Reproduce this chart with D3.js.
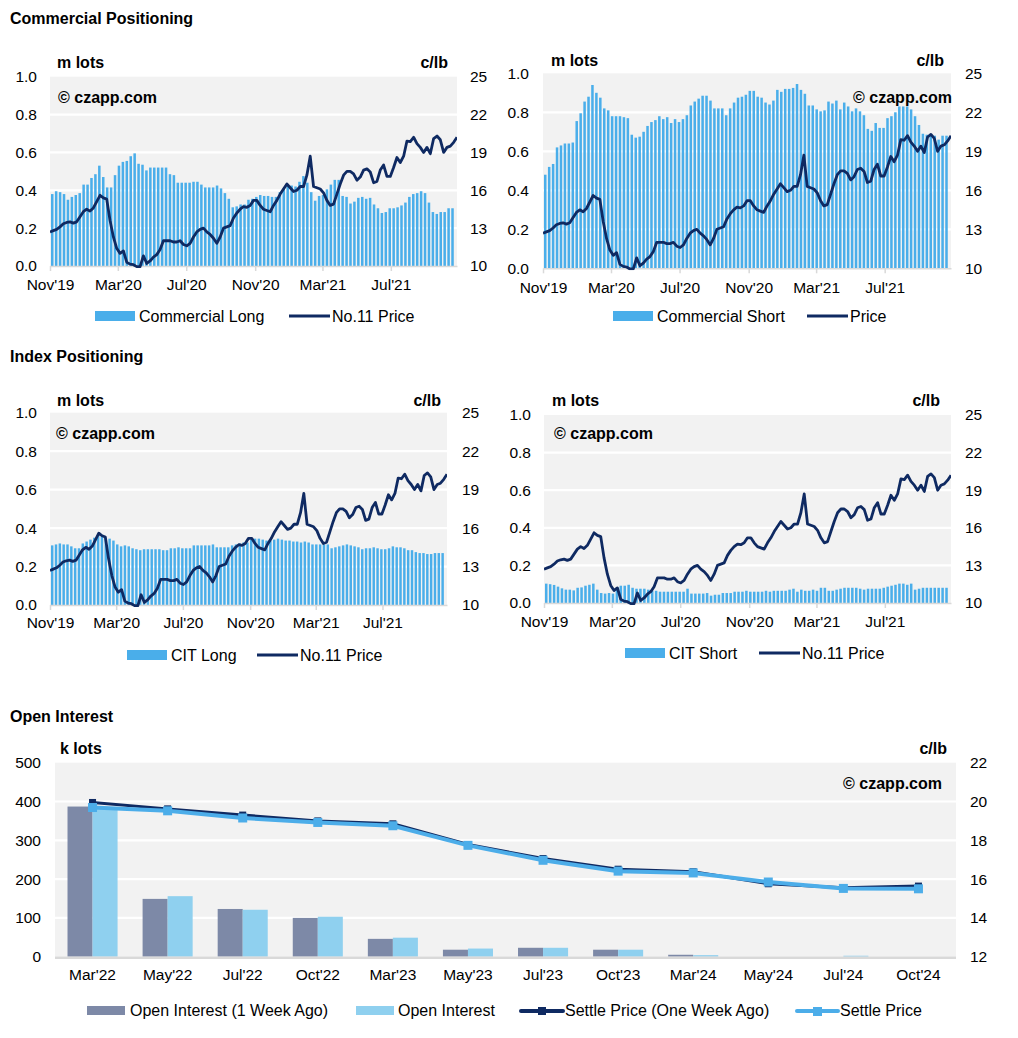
<!DOCTYPE html>
<html><head><meta charset="utf-8">
<script src="https://cdn.jsdelivr.net/npm/d3@7"></script>
<style>
body{margin:0;background:#fff}
svg{display:block}
text{font-family:"Liberation Sans",Arial,sans-serif;fill:#000}
</style>
</head><body>
<svg id="c" width="1018" height="1038"></svg>
<script>
// ---------- DATA ----------
const xTickLabels = ["Nov'19","Mar'20","Jul'20","Nov'20","Mar'21","Jul'21"];
const xTickDates = ["2019-11-01","2020-03-01","2020-07-01","2020-11-01","2021-03-01","2021-07-01"];
const posLeftTicks = [0,0.2,0.4,0.6,0.8,1.0];
const posRightTicks = [10,13,16,19,22,25];
const firstWeek = "2019-11-05";   // weekly positioning reports start
const axisStart = "2019-11-01", axisEnd = "2021-10-27";

const commercialLong = [
0.38,0.395,0.39,0.38,0.35,0.365,0.375,0.385,0.43,0.43,
0.465,0.485,0.53,0.47,0.415,0.415,0.48,0.53,0.55,0.555,
0.58,0.595,0.54,0.535,0.505,0.52,0.52,0.52,0.52,0.52,
0.485,0.48,0.44,0.44,0.44,0.44,0.445,0.445,0.43,0.415,
0.415,0.415,0.425,0.41,0.385,0.355,0.31,0.315,0.325,0.325,
0.35,0.355,0.365,0.375,0.37,0.37,0.365,0.365,0.39,0.41,
0.425,0.425,0.42,0.445,0.475,0.44,0.39,0.345,0.37,0.375,
0.405,0.43,0.455,0.455,0.37,0.365,0.33,0.34,0.36,0.365,
0.355,0.36,0.325,0.305,0.28,0.285,0.305,0.305,0.31,0.32,
0.335,0.365,0.38,0.385,0.395,0.385,0.335,0.285,0.275,0.285,
0.285,0.305,0.305];

const commercialShort = [
0.48,0.52,0.535,0.62,0.63,0.64,0.64,0.645,0.755,0.795,
0.855,0.88,0.94,0.9,0.875,0.82,0.81,0.78,0.78,0.78,
0.775,0.77,0.685,0.67,0.675,0.7,0.73,0.75,0.76,0.78,
0.765,0.775,0.745,0.765,0.75,0.765,0.785,0.835,0.855,0.87,
0.885,0.885,0.86,0.82,0.82,0.82,0.785,0.82,0.85,0.875,
0.88,0.89,0.91,0.91,0.88,0.875,0.85,0.84,0.86,0.915,
0.905,0.92,0.92,0.925,0.945,0.915,0.895,0.835,0.835,0.815,
0.805,0.81,0.855,0.845,0.86,0.815,0.85,0.83,0.805,0.82,
0.805,0.785,0.715,0.705,0.745,0.72,0.72,0.77,0.78,0.8,
0.83,0.83,0.83,0.815,0.78,0.735,0.69,0.685,0.685,0.68,
0.66,0.68,0.68];

const citLong = [
0.31,0.315,0.32,0.315,0.315,0.305,0.295,0.295,0.32,0.33,
0.34,0.35,0.36,0.365,0.345,0.345,0.335,0.315,0.305,0.31,
0.305,0.295,0.29,0.285,0.29,0.29,0.29,0.29,0.29,0.285,
0.285,0.295,0.295,0.3,0.295,0.295,0.295,0.31,0.31,0.31,
0.31,0.31,0.315,0.3,0.3,0.3,0.3,0.31,0.315,0.32,
0.325,0.325,0.34,0.345,0.345,0.34,0.335,0.335,0.34,0.345,
0.34,0.335,0.335,0.33,0.33,0.325,0.33,0.325,0.315,0.315,
0.315,0.315,0.315,0.295,0.3,0.305,0.31,0.315,0.31,0.305,
0.3,0.29,0.295,0.295,0.3,0.295,0.29,0.29,0.295,0.305,
0.3,0.3,0.295,0.285,0.285,0.275,0.27,0.27,0.265,0.265,
0.27,0.27,0.27];

const citShort = [
0.103,0.1,0.096,0.087,0.078,0.071,0.071,0.067,0.081,0.083,
0.092,0.097,0.103,0.071,0.053,0.05,0.053,0.05,0.081,0.092,
0.092,0.097,0.081,0.076,0.076,0.076,0.071,0.065,0.065,0.06,
0.06,0.06,0.06,0.06,0.06,0.06,0.076,0.05,0.05,0.05,
0.05,0.053,0.039,0.044,0.044,0.053,0.053,0.053,0.06,0.06,
0.06,0.065,0.06,0.06,0.06,0.06,0.065,0.06,0.065,0.065,
0.065,0.065,0.071,0.076,0.06,0.071,0.065,0.065,0.071,0.065,
0.081,0.081,0.065,0.065,0.071,0.076,0.081,0.081,0.081,0.081,
0.076,0.071,0.076,0.076,0.076,0.076,0.081,0.087,0.092,0.097,
0.103,0.103,0.097,0.103,0.071,0.076,0.081,0.081,0.081,0.081,
0.081,0.081,0.081];

// No.11 price (c/lb), evenly spaced from axisStart to axisEnd
const no11Price = [
12.7,12.8,12.9,13.1,13.35,13.45,13.5,13.4,13.5,13.9,
14.3,14.5,14.35,14.6,15.1,15.6,15.4,15.3,13.6,12.3,
11.4,11.0,11.2,10.3,10.15,10.1,9.95,9.95,10.8,10.2,
10.4,10.7,10.9,11.3,12.0,12.0,12.0,11.9,11.9,12.0,
11.7,11.6,11.8,12.3,12.7,12.9,13.0,12.7,12.5,12.2,
11.8,12.3,13.0,13.1,13.2,13.8,14.2,14.5,14.7,14.65,
14.8,15.2,15.2,14.8,14.5,14.4,14.3,14.8,15.2,15.7,
16.1,16.5,16.2,15.9,16.0,16.3,16.3,17.2,18.7,16.3,
16.2,16.1,15.8,15.2,14.8,14.9,15.7,16.5,17.2,17.5,
17.5,17.3,16.8,17.05,17.6,17.7,17.45,16.6,16.7,17.6,
18.0,17.1,17.1,17.8,18.6,18.2,18.7,19.9,19.85,20.2,
19.7,19.4,19.0,19.4,18.9,20.1,20.3,20.0,19.0,19.4,
19.5,19.8,20.2];

// Open interest chart
const contracts = ["Mar'22","May'22","Jul'22","Oct'22","Mar'23","May'23","Jul'23","Oct'23","Mar'24","May'24","Jul'24","Oct'24"];
const oiWeekAgo = [387,149,123,100,46,18,23,18,5,0,0,0];
const oiNow     = [384,156,121,103,49,21,23,18,4,0,2.5,0];
const settleWeekAgo = [19.95,19.62,19.3,19.0,18.85,17.78,17.06,16.51,16.38,15.76,15.56,15.64];
const settleNow     = [19.69,19.52,19.15,18.92,18.75,17.74,16.97,16.41,16.32,15.85,15.52,15.5];
const oiLeftTicks = [0,100,200,300,400,500];
const oiRightTicks = [12,14,16,18,20,22];

// ---------- STYLE ----------
const C = {bg:"#f2f2f2", bar:"#4aaeea", navy:"#0f2a62", axis:"#d9d9d9",
           oiDark:"#7d89a7", oiLight:"#8fd0ef", setDark:"#0f2a62", setLight:"#4cade9"};
const svg = d3.select("#c");
const parse = d3.utcParse("%Y-%m-%d");

function txt(g, x, y, s, o={}) {
  return g.append("text").attr("x",x).attr("y",y).attr("dy","0.35em")
    .attr("text-anchor",o.anchor||"start").attr("font-size",o.size||16)
    .attr("font-weight",o.bold?"bold":"normal").text(s);
}

function posChart(cfg) {
  const g = svg.append("g");
  const x = d3.scaleUtc().domain([parse(axisStart), parse(axisEnd)]).range([cfg.x0, cfg.x1]);
  const yL = d3.scaleLinear().domain([0,1]).range([cfg.yBot, cfg.yTop]);
  const yR = d3.scaleLinear().domain([10,25]).range([cfg.yBot, cfg.yTop]);
  g.append("rect").attr("x",cfg.x0).attr("y",cfg.yTop).attr("width",cfg.x1-cfg.x0)
    .attr("height",cfg.yBot-cfg.yTop).attr("fill",C.bg);
  g.selectAll(".grid").data(posLeftTicks.filter(t=>t>0 && t<1)).join("line")
    .attr("x1",cfg.x0).attr("x2",cfg.x1).attr("y1",d=>yL(d)).attr("y2",d=>yL(d))
    .attr("stroke","#fff").attr("stroke-width",2.2);
  const d0 = parse(firstWeek);
  const dates = cfg.bars.map((v,i)=>d3.utcDay.offset(d0, 7*i));
  const bw = (x(d3.utcDay.offset(d0,7)) - x(d0))*0.64;
  g.selectAll(".bar").data(cfg.bars).join("rect")
    .attr("x",(d,i)=>x(dates[i])-bw/2).attr("y",d=>yL(d))
    .attr("width",bw).attr("height",d=>yL(0)-yL(d)).attr("fill",C.bar);
  // x axis
  const ax = g.append("g").attr("transform",`translate(0,${cfg.yBot})`)
    .call(d3.axisBottom(x).tickValues(xTickDates.map(parse)).tickSize(5).tickSizeOuter(0)
      .tickFormat((d,i)=>xTickLabels[i]));
  ax.select(".domain").attr("stroke",C.axis).attr("stroke-width",1.5);
  ax.selectAll(".tick line").attr("stroke",C.axis).attr("stroke-width",1.5);
  ax.selectAll(".tick text").attr("font-size",15.5).attr("fill","#000").attr("y",cfg.xLabDy).attr("dy","0.35em")
    .attr("font-family",'"Liberation Sans",Arial,sans-serif');
  // y axes
  const al = g.append("g").attr("transform",`translate(${cfg.x0},0)`)
    .call(d3.axisLeft(yL).tickValues(posLeftTicks).tickSize(0).tickPadding(cfg.padL).tickFormat(d3.format(".1f")));
  al.select(".domain").remove();
  al.selectAll("text").attr("font-size",15.5).attr("fill","#000").attr("font-family",'"Liberation Sans",Arial,sans-serif');
  const ar = g.append("g").attr("transform",`translate(${cfg.x1},0)`)
    .call(d3.axisRight(yR).tickValues(posRightTicks).tickSize(0).tickPadding(cfg.padR).tickFormat(d3.format("d")));
  ar.select(".domain").remove();
  ar.selectAll("text").attr("font-size",15.5).attr("fill","#000").attr("font-family",'"Liberation Sans",Arial,sans-serif');
  // price line
  const clipId = "clip"+cfg.id;
  svg.append("clipPath").attr("id",clipId).append("rect")
    .attr("x",cfg.x0).attr("y",cfg.yTop).attr("width",cfg.x1-cfg.x0).attr("height",cfg.yBot-cfg.yTop+2);
  const t0 = +parse(axisStart), t1 = +parse(axisEnd), n = no11Price.length;
  const line = d3.line().x((d,i)=>x(new Date(t0 + (t1-t0)*i/(n-1)))).y(d=>yR(d)).curve(d3.curveLinear);
  g.append("path").datum(no11Price).attr("d",line).attr("fill","none")
    .attr("stroke",C.navy).attr("stroke-width",2.8).attr("stroke-linejoin","round")
    .attr("clip-path",`url(#${clipId})`);
  // labels
  txt(g, cfg.mlotsX, cfg.unitY, "m lots", {bold:true});
  txt(g, cfg.clbX, cfg.unitY, "c/lb", {bold:true, anchor:"end"});
  txt(g, cfg.czX, cfg.czY, "\u00a9 czapp.com", {bold:true, anchor:cfg.czAnchor});
  // legend
  g.append("rect").attr("x",cfg.leg[0]).attr("y",cfg.legY-5).attr("width",40).attr("height",10).attr("fill",C.bar);
  txt(g, cfg.leg[0]+44, cfg.legY, cfg.barName);
  g.append("line").attr("x1",cfg.leg[1]).attr("x2",cfg.leg[1]+41).attr("y1",cfg.legY).attr("y2",cfg.legY)
    .attr("stroke",C.navy).attr("stroke-width",3);
  txt(g, cfg.leg[1]+43, cfg.legY, cfg.lineName);
}

// titles
txt(svg, 10, 18, "Commercial Positioning", {bold:true, size:16});
txt(svg, 10, 356, "Index Positioning", {bold:true, size:16});
txt(svg, 10, 716, "Open Interest", {bold:true, size:16});

posChart({id:1, bars:commercialLong, x0:50, x1:457, yTop:76.7, yBot:266, padL:13, padR:13, xLabDy:19,
  mlotsX:57, clbX:448, unitY:62, czX:58, czY:97, czAnchor:"start",
  legY:316, leg:[95,289], barName:"Commercial Long", lineName:"No.11 Price"});
posChart({id:2, bars:commercialShort, x0:543, x1:951, yTop:73.3, yBot:268.3, padL:14, padR:14, xLabDy:19,
  mlotsX:551, clbX:944, unitY:60, czX:952, czY:97, czAnchor:"end",
  legY:316, leg:[613,807], barName:"Commercial Short", lineName:"Price"});
posChart({id:3, bars:citLong, x0:50, x1:447, yTop:412.7, yBot:605, padL:13, padR:15, xLabDy:18,
  mlotsX:57, clbX:441, unitY:400, czX:56, czY:433, czAnchor:"start",
  legY:655, leg:[127,257], barName:"CIT Long", lineName:"No.11 Price"});
posChart({id:4, bars:citShort, x0:544, x1:951, yTop:415, yBot:603, padL:13, padR:14, xLabDy:19,
  mlotsX:552, clbX:940, unitY:400, czX:554, czY:433, czAnchor:"start",
  legY:653, leg:[625,759], barName:"CIT Short", lineName:"No.11 Price"});

// ---------- OPEN INTEREST ----------
(function(){
  const g = svg.append("g");
  const x0 = 55, x1 = 956, yTop = 762.7, yBot = 956.7;
  const x = d3.scaleBand().domain(contracts).range([x0,x1]).padding(0);
  const xs = d3.scaleBand().domain(["prev","now"]).range([0,x.bandwidth()]).paddingInner(0).paddingOuter(0.5);
  const yL = d3.scaleLinear().domain([0,500]).range([yBot,yTop]);
  const yR = d3.scaleLinear().domain([12,22]).range([yBot,yTop]);
  g.append("rect").attr("x",x0).attr("y",yTop).attr("width",x1-x0).attr("height",yBot-yTop).attr("fill",C.bg);
  g.selectAll(".grid").data(oiLeftTicks.filter(t=>t>0&&t<500)).join("line")
    .attr("x1",x0).attr("x2",x1).attr("y1",d=>yL(d)).attr("y2",d=>yL(d)).attr("stroke","#fff").attr("stroke-width",2.2);
  g.selectAll(".bp").data(oiWeekAgo).join("rect")
    .attr("x",(d,i)=>x(contracts[i])+xs("prev")).attr("y",d=>yL(d)).attr("width",xs.bandwidth())
    .attr("height",d=>yBot-yL(d)).attr("fill",C.oiDark);
  g.selectAll(".bn").data(oiNow).join("rect")
    .attr("x",(d,i)=>x(contracts[i])+xs("now")).attr("y",d=>yL(d)).attr("width",xs.bandwidth())
    .attr("height",d=>yBot-yL(d)).attr("fill",C.oiLight);
  g.append("line").attr("x1",x0).attr("x2",x1).attr("y1",yBot+1).attr("y2",yBot+1).attr("stroke",C.axis).attr("stroke-width",2.5);
  contracts.forEach((c,i)=>txt(g, x(c)+x.bandwidth()/2, 975, c, {anchor:"middle", size:15.5}));
  const al = g.append("g").attr("transform",`translate(${x0},0)`)
    .call(d3.axisLeft(yL).tickValues(oiLeftTicks).tickSize(0).tickPadding(14).tickFormat(d3.format("d")));
  al.select(".domain").remove();
  al.selectAll("text").attr("font-size",15.5).attr("fill","#000").attr("font-family",'"Liberation Sans",Arial,sans-serif');
  const ar = g.append("g").attr("transform",`translate(${x1},0)`)
    .call(d3.axisRight(yR).tickValues(oiRightTicks).tickSize(0).tickPadding(14).tickFormat(d3.format("d")));
  ar.select(".domain").remove();
  ar.selectAll("text").attr("font-size",15.5).attr("fill","#000").attr("font-family",'"Liberation Sans",Arial,sans-serif');
  const cx = (d,i)=>x(contracts[i])+x.bandwidth()/2;
  const ln = d3.line().x(cx).y(d=>yR(d));
  g.append("path").datum(settleWeekAgo).attr("d",ln).attr("fill","none").attr("stroke",C.setDark).attr("stroke-width",3);
  g.selectAll(".mp").data(settleWeekAgo).join("rect")
    .attr("x",(d,i)=>cx(d,i)-3.5).attr("y",d=>yR(d)-3.5).attr("width",7).attr("height",7).attr("fill",C.setDark);
  g.append("path").datum(settleNow).attr("d",ln).attr("fill","none").attr("stroke",C.setLight).attr("stroke-width",4);
  g.selectAll(".mn").data(settleNow).join("rect")
    .attr("x",(d,i)=>cx(d,i)-4.5).attr("y",d=>yR(d)-4.5).attr("width",9).attr("height",9).attr("fill",C.setLight);
  txt(g, 60, 748, "k lots", {bold:true});
  txt(g, 947, 748, "c/lb", {bold:true, anchor:"end"});
  txt(g, 942, 783, "\u00a9 czapp.com", {bold:true, anchor:"end"});
  // legend
  const ly = 1010;
  g.append("rect").attr("x",87).attr("y",ly-4).attr("width",38).attr("height",9).attr("fill",C.oiDark);
  txt(g, 130, ly, "Open Interest (1 Week Ago)");
  g.append("rect").attr("x",356).attr("y",ly-4).attr("width",38).attr("height",9).attr("fill",C.oiLight);
  txt(g, 398, ly, "Open Interest");
  g.append("line").attr("x1",521).attr("x2",563).attr("y1",ly+1).attr("y2",ly+1).attr("stroke",C.setDark).attr("stroke-width",4).attr("stroke-linecap","round");
  g.append("rect").attr("x",538).attr("y",ly-3).attr("width",8).attr("height",8).attr("fill",C.setDark);
  txt(g, 565, ly, "Settle Price (One Week Ago)");
  g.append("line").attr("x1",797).attr("x2",838).attr("y1",ly+1).attr("y2",ly+1).attr("stroke",C.setLight).attr("stroke-width",4).attr("stroke-linecap","round");
  g.append("rect").attr("x",813).attr("y",ly-3).attr("width",9).attr("height",9).attr("fill",C.setLight);
  txt(g, 840, ly, "Settle Price");
})();
</script>
</body></html>
